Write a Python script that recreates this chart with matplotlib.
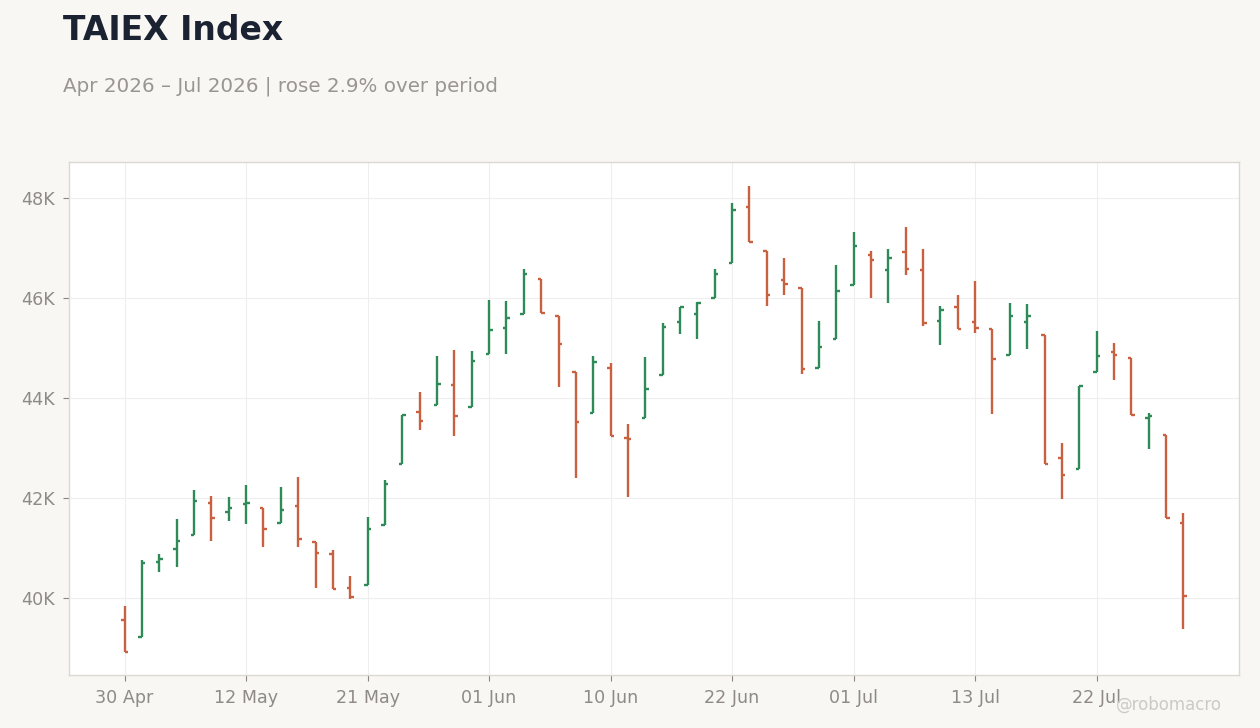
import matplotlib
matplotlib.use('Agg')
import matplotlib.pyplot as plt
from matplotlib.ticker import FuncFormatter
import numpy as np

plt.rcParams['font.family'] = ['DejaVu Sans']

# daily OHLC, TAIEX
opens = [39570, 39230, 40730, 40990, 41270, 41910, 41730, 41890, 41810, 41510,
         41850, 41120, 40890, 40210, 40270, 41470, 42690, 43730, 43870, 44270,
         43830, 44890, 45410, 45690, 46390, 45650, 44530, 43710, 44610, 43200,
         43610, 44470, 45530, 45690, 46010, 46710, 47830, 46950, 46370, 46210,
         44610, 45190, 46270, 46870, 46570, 46930, 46570, 45550, 45830, 45530,
         45390, 44870, 45530, 45270, 42810, 42590, 44530, 44930, 44800, 43610,
         43260, 41510]
highs = [39850, 40770, 40890, 41590, 42170, 42050, 42030, 42270, 41810, 42230,
         42430, 41120, 40970, 40450, 41630, 42360, 43670, 44130, 44850, 44970,
         44950, 45970, 45950, 46590, 46390, 45650, 44530, 44840, 44710, 43490,
         44820, 45500, 45830, 45920, 46590, 47900, 48250, 46950, 46800, 46210,
         45550, 46670, 47330, 46950, 46990, 47430, 46990, 45850, 46070, 46350,
         45390, 45900, 45880, 45270, 43100, 44250, 45340, 45110, 44800, 43700,
         43260, 41700]
lows = [38930, 39230, 40530, 40630, 41270, 41150, 41550, 41490, 41030, 41510,
        41030, 40200, 40190, 39980, 40270, 41470, 42690, 43370, 43870, 43250,
        43830, 44890, 44890, 45690, 45700, 44230, 42400, 43710, 43250, 42030,
        43610, 44470, 45290, 45190, 46010, 46710, 47130, 45850, 46070, 44480,
        44610, 45190, 46270, 46010, 45910, 46470, 45450, 45060, 45390, 45300,
        43680, 44870, 44990, 42690, 41990, 42590, 44530, 44370, 43660, 42990,
        41600, 39390]
closes = [38930, 40710, 40790, 41150, 41950, 41610, 41810, 41910, 41390, 41770,
          41190, 40910, 40190, 40030, 41390, 42290, 43670, 43550, 44290, 43650,
          44750, 45370, 45600, 46490, 45700, 45090, 43530, 44730, 43250, 43180,
          44190, 45430, 45830, 45900, 46490, 47770, 47130, 46070, 46290, 44590,
          45030, 46150, 47050, 46770, 46810, 46590, 45510, 45770, 45390, 45410,
          44780, 45650, 45650, 42690, 42470, 44250, 44850, 44870, 43660, 43650,
          41600, 40050]

tick_labels = ['30 Apr', '12 May', '21 May', '01 Jun', '10 Jun',
               '22 Jun', '01 Jul', '13 Jul', '22 Jul']

UP = '#2e8b57'
DOWN = '#c9603f'
BG = '#f8f7f4'
MUTED = '#8f8a85'

x = np.arange(len(closes))
o = np.array(opens)
h = np.array(highs)
l = np.array(lows)
c = np.array(closes)
colors = np.where(c >= o, UP, DOWN)

fig = plt.figure(figsize=(12.6, 7.28), dpi=100, facecolor=BG)
ax = fig.add_axes([0.0548, 0.0728, 0.9285, 0.7047])
ax.set_facecolor('white')

tw = 0.2
ax.vlines(x, l, h, colors=colors, linewidth=1.7, zorder=3)
ax.hlines(o, x - tw, x, colors=colors, linewidth=1.7, zorder=3)
ax.hlines(c, x, x + tw, colors=colors, linewidth=1.7, zorder=3)

ax.set_xlim(-3.2, len(closes) + 2.2)
ax.set_ylim(38470, 48730)
ax.set_yticks([40000, 42000, 44000, 46000, 48000])
ax.yaxis.set_major_formatter(FuncFormatter(lambda v, p: f'{v / 1000:.0f}K'))
ax.set_xticks(np.arange(0, 7 * len(tick_labels), 7))
ax.set_xticklabels(tick_labels)

ax.grid(True, color='#eeeeee', linewidth=0.8, zorder=0)
ax.set_axisbelow(True)
for s in ax.spines.values():
    s.set_color('#dcd8d2')
    s.set_linewidth(1.0)
ax.tick_params(axis='both', colors='#8a8580', labelcolor=MUTED, labelsize=12.6,
               length=4, width=0.8, pad=6)

pct = (closes[-1] / closes[0] - 1) * 100
fig.text(0.05, 0.945, 'TAIEX Index', fontsize=23.8, fontweight='bold',
         color='#1b2333', ha='left', va='baseline')
fig.text(0.05, 0.875, f'Apr 2026 – Jul 2026 | rose {pct:.1f}% over period',
         fontsize=14.3, color='#9a9590', ha='left', va='baseline')
fig.text(0.97, 0.025, '@robomacro', fontsize=12, color='#cccac6',
         ha='right', va='baseline')

fig.savefig('out.png', dpi=100, facecolor=BG)
